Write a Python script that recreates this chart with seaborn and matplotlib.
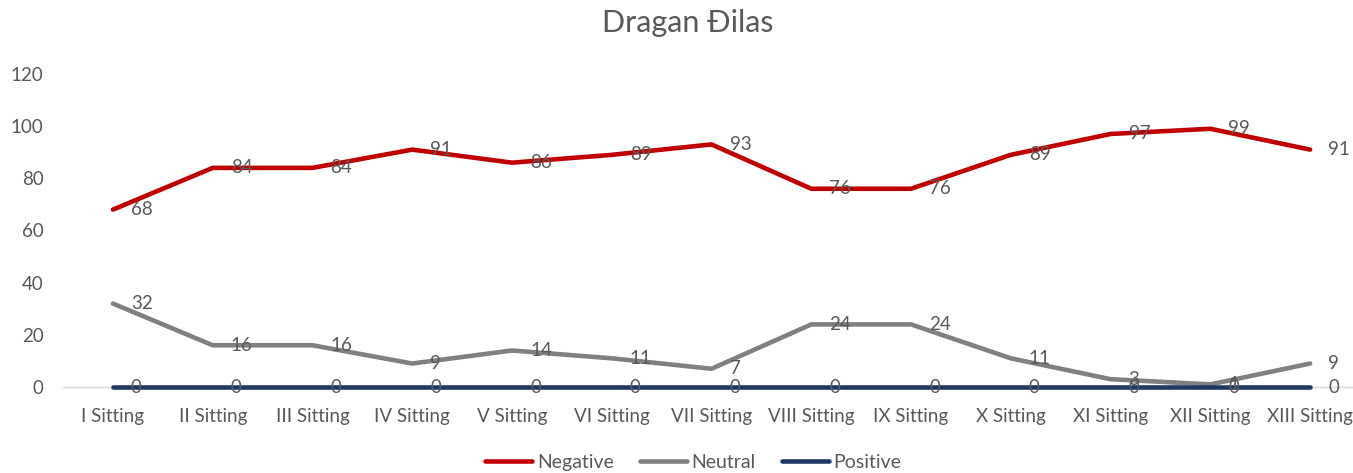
import matplotlib
matplotlib.use("Agg")
import matplotlib.pyplot as plt
import pandas as pd
import seaborn as sns

sittings = ["I Sitting", "II Sitting", "III Sitting", "IV Sitting", "V Sitting",
            "VI Sitting", "VII Sitting", "VIII Sitting", "IX Sitting", "X Sitting",
            "XI Sitting", "XII Sitting", "XIII Sitting"]
negative = [68, 84, 84, 91, 86, 89, 93, 76, 76, 89, 97, 99, 91]
neutral = [32, 16, 16, 9, 14, 11, 7, 24, 24, 11, 3, 1, 9]
positive = [0, 0, 0, 0, 0, 0, 0, 0, 0, 0, 0, 0, 0]

series = {"Negative": negative, "Neutral": neutral, "Positive": positive}
colors = {"Negative": "#C00000", "Neutral": "#808080", "Positive": "#1F3864"}
text_color = "#595959"

data = pd.concat(
    [pd.DataFrame({"sitting": sittings, "value": v, "sentiment": k})
     for k, v in series.items()],
    ignore_index=True)

sns.set_style("white")
plt.rcParams["font.family"] = ["Lato", "DejaVu Sans"]

figure = plt.figure(figsize=(13.53, 4.73), dpi=100)
ax = figure.add_axes([0.0466, 0.1818, 0.9534, 0.6618])

sns.lineplot(
    data=data, x="sitting", y="value", hue="sentiment",
    palette=colors, linewidth=3.3, sort=False, ax=ax, zorder=3)
# the zero line sits on the axis edge, keep it unclipped
for line in ax.lines:
    line.set_clip_on(False)

# data labels to the right of each point
for name, values in series.items():
    for i, v in enumerate(values):
        ax.annotate(
            str(v), (i, v), xytext=(13, 0), textcoords="offset points",
            ha="left", va="center", fontsize=13.5, color=text_color, zorder=4)

ax.set_xlim(-0.5, 12.43)
ax.set_ylim(0, 120)
ax.set_yticks(range(0, 121, 20))
ax.set_xlabel("")
ax.set_ylabel("")
ax.tick_params(axis="both", length=0, labelsize=13.5, labelcolor=text_color)
ax.tick_params(axis="y", pad=14)
ax.tick_params(axis="x", pad=15)
for side in ["top", "right", "left"]:
    ax.spines[side].set_visible(False)
ax.spines["bottom"].set_color("#D9D9D9")
ax.spines["bottom"].set_linewidth(1)
ax.spines["bottom"].set_zorder(1)

figure.suptitle("Dragan Đilas", x=0.5085, y=0.98, fontsize=22, color=text_color)

handles, labels = ax.get_legend_handles_labels()
ax.legend(
    handles, labels, loc="lower center", bbox_to_anchor=(0.5126, -0.012),
    bbox_transform=figure.transFigure, ncol=3, frameon=False, fontsize=14,
    handlelength=2.4, handletextpad=0.25, columnspacing=1.35, labelcolor=text_color,
    borderaxespad=0.0)

plt.savefig("out.png", dpi=100)
